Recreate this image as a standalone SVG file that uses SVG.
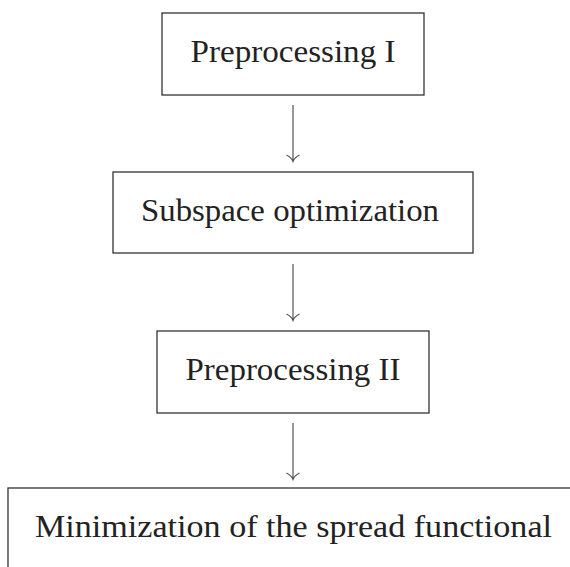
<svg xmlns="http://www.w3.org/2000/svg" width="570" height="567" viewBox="0 0 570 567">
<defs>
<style>
.box{fill:#fff;stroke:#333;stroke-width:1.3}
.lbl{font-family:"Liberation Serif","DejaVu Serif",serif;font-size:32px;fill:#222;text-anchor:middle}
.conn{stroke:#555;stroke-width:1.2;fill:none}
</style>
</defs>
<rect width="570" height="567" fill="#fff"/>
<g id="node-pre1">
<rect class="box" x="162" y="13" width="262" height="82"/>
<text class="lbl" x="293" y="62" textLength="205" lengthAdjust="spacingAndGlyphs">Preprocessing I</text>
</g>
<g id="node-subspace">
<rect class="box" x="113" y="172" width="360" height="81"/>
<text class="lbl" x="290" y="221" textLength="298" lengthAdjust="spacingAndGlyphs">Subspace optimization</text>
</g>
<g id="node-pre2">
<rect class="box" x="157" y="331" width="272" height="82"/>
<text class="lbl" x="293" y="380" textLength="215" lengthAdjust="spacingAndGlyphs">Preprocessing II</text>
</g>
<g id="node-min">
<rect class="box" x="8" y="488" width="575" height="90"/>
<text class="lbl" x="293.5" y="537" textLength="517" lengthAdjust="spacingAndGlyphs">Minimization of the spread functional</text>
</g>
<g id="connectors">
<path class="conn" d="M293,105 V161 M286.5,155 Q291.5,157.5 293,161.5 Q294.5,157.5 299.5,155"/>
<path class="conn" d="M293,264 V320 M286.5,314 Q291.5,316.5 293,320.5 Q294.5,316.5 299.5,314"/>
<path class="conn" d="M293,423 V479 M286.5,473 Q291.5,475.5 293,479.5 Q294.5,475.5 299.5,473"/>
</g>
</svg>
